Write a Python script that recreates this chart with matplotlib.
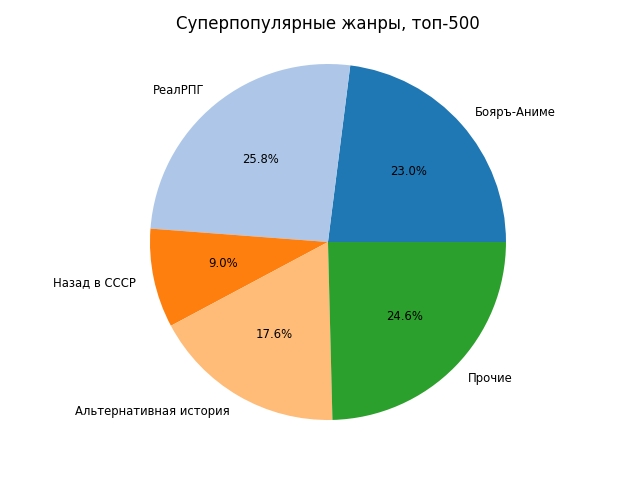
import matplotlib
matplotlib.use("Agg")
import matplotlib.pyplot as plt

labels = ["Бояръ-Аниме", "РеалРПГ", "Назад в СССР", "Альтернативная история", "Прочие"]
values = [23.0, 25.8, 9.0, 17.6, 24.6]
colors = ["#1f77b4", "#aec7e8", "#ff7f0e", "#ffbb78", "#2ca02c"]

fig = plt.figure(figsize=(6.4, 4.8), dpi=100)
ax = fig.add_axes([0.1648, 0.0323, 445 / 640, 445 / 480])
ax.pie(values, labels=labels, colors=colors, autopct="%1.1f%%",
       textprops={"fontsize": 8.4})
fig.suptitle("Суперпопулярные жанры, топ-500", x=328 / 640, y=1 - 24 / 480,
             va="center", fontsize=12)
fig.savefig("out.png")
